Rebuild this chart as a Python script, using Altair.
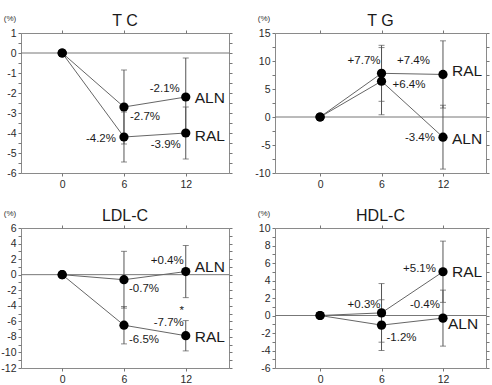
import altair as alt
import numpy as np
import pandas as pd

FONT = "Liberation Sans"

# months of treatment
months = [0, 6, 12]

# mean % change and SD
tc_aln = [0, -2.7, -2.2]
tc_aln_sd = [0, 1.85, 1.95]
tc_ral = [0, -4.2, -4.0]
tc_ral_sd = [0, 1.25, 1.3]

tg_aln = [0, 6.4, -3.6]
tg_aln_sd = [0, 6.0, 5.7]
tg_ral = [0, 7.8, 7.6]
tg_ral_sd = [0, 5.0, 6.0]

ldl_aln = [0, -0.65, 0.4]
ldl_aln_sd = [0, 3.65, 3.35]
ldl_ral = [0, -6.5, -7.85]
ldl_ral_sd = [0, 2.4, 1.95]

hdl_aln = [0, -1.1, -0.3]
hdl_aln_sd = [0, 2.9, 3.2]
hdl_ral = [0, 0.3, 5.0]
hdl_ral_sd = [0, 3.35, 3.5]

# printed value labels
tc_aln_txt = ["", "-2.7%", "-2.1%"]
tc_ral_txt = ["", "-4.2%", "-3.9%"]
tg_aln_txt = ["", "+6.4%", "-3.4%"]
tg_ral_txt = ["", "+7.7%", "+7.4%"]
ldl_aln_txt = ["", "-0.7%", "+0.4%"]
ldl_ral_txt = ["", "-6.5%", "-7.7%"]
hdl_aln_txt = ["", "-1.2%", "-0.4%"]
hdl_ral_txt = ["", "+0.3%", "+5.1%"]

# y axis ticks
tc_ticks = [1, 0, -1, -2, -3, -4, -5, -6]
tg_ticks = [15, 10, 5, 0, -5, -10]
ldl_ticks = [6, 4, 2, 0, -2, -4, -6, -8, -10, -12]
hdl_ticks = [10, 8, 6, 4, 2, 0, -2, -4, -6]

# label placement (pixel offsets from the point): (dx, dy, align)
LAYOUT = {
    "TC": {
        "ALN": [None, (6, 10, "left"), (-6, -8, "right")],
        "RAL": [None, (-8, 2, "right"), (-5, 12, "right")],
        "names": {"ALN": (9, 1), "RAL": (9, 3)},
    },
    "TG": {
        "ALN": [None, (11, 4, "left"), (-8, 1, "right")],
        "RAL": [None, (-1, -12, "right"), (-13, -13, "right")],
        "names": {"ALN": (9, 2), "RAL": (9, -3)},
    },
    "LDL": {
        "ALN": [None, (5, 9, "left"), (-2, -11, "right")],
        "RAL": [None, (5, 15, "left"), (-2, -13, "right")],
        "names": {"ALN": (9, -5), "RAL": (9, 1)},
    },
    "HDL": {
        "ALN": [None, (5, 13, "left"), (-3, -13, "right")],
        "RAL": [None, (-1, -8, "right"), (-7, -3, "right")],
        "names": {"ALN": (5, 6), "RAL": (9, 0)},
    },
}

PANELS = {
    "TC": dict(title="T C", aln=tc_aln, aln_sd=tc_aln_sd, ral=tc_ral, ral_sd=tc_ral_sd,
               aln_txt=tc_aln_txt, ral_txt=tc_ral_txt, ticks=tc_ticks, major=1, minor=0.5,
               w=208, xdom=[-4.0, 16.2]),
    "TG": dict(title="T G", aln=tg_aln, aln_sd=tg_aln_sd, ral=tg_ral, ral_sd=tg_ral_sd,
               aln_txt=tg_aln_txt, ral_txt=tg_ral_txt, ticks=tg_ticks, major=5, minor=2.5,
               w=211, xdom=[-4.4, 16.2]),
    "LDL": dict(title="LDL-C", aln=ldl_aln, aln_sd=ldl_aln_sd, ral=ldl_ral, ral_sd=ldl_ral_sd,
                aln_txt=ldl_aln_txt, ral_txt=ldl_ral_txt, ticks=ldl_ticks, major=2, minor=1,
                w=208, xdom=[-4.0, 16.2]),
    "HDL": dict(title="HDL-C", aln=hdl_aln, aln_sd=hdl_aln_sd, ral=hdl_ral, ral_sd=hdl_ral_sd,
                aln_txt=hdl_aln_txt, ral_txt=hdl_ral_txt, ticks=hdl_ticks, major=2, minor=1,
                w=211, xdom=[-4.4, 16.2]),
}

H = 140
GRAY_FRAME = "#8a8a8a"
TXT = "#1a1a1a"


def panel(key):
    p = PANELS[key]
    W = p["w"]
    lay = LAYOUT[key]
    rows, labs, names = [], [], []
    for g in ["ALN", "RAL"]:
        vals = p[g.lower()]
        sds = p[g.lower() + "_sd"]
        txts = p[g.lower() + "_txt"]
        for i, (m, v, s) in enumerate(zip(months, vals, sds)):
            rows.append({"x": m, "y": v, "lo": v - s, "hi": v + s, "g": g})
            if lay[g][i] is not None:
                dx, dy, al = lay[g][i]
                labs.append({"x": m, "y": v, "t": txts[i], "dx": dx, "dy": dy, "al": al})
        ndx, ndy = lay["names"][g]
        names.append({"x": months[-1], "y": vals[-1], "t": g, "dx": ndx, "dy": ndy})
    if key == "LDL":
        labs.append({"x": months[-1], "y": ldl_ral[-1], "t": "*", "dx": -4, "dy": -25, "al": "center"})
    df = pd.DataFrame(rows)
    lab = pd.DataFrame(labs)
    nm = pd.DataFrame(names)
    eb = df[df.x > 0]
    caps = pd.concat([
        eb[["x", "lo"]].rename(columns={"lo": "c"}),
        eb[["x", "hi"]].rename(columns={"hi": "c"}),
    ])

    lo, hi = min(p["ticks"]), max(p["ticks"])
    minor = [float(v) for v in np.arange(lo, hi + 1e-9, p["minor"])]
    xs = alt.Scale(domain=p["xdom"], nice=False, zero=False)
    ys = alt.Scale(domain=[lo, hi], nice=False, zero=False)

    common_axis = dict(title=None, grid=False, domain=False, tickColor="#777", tickSize=3,
                       labelFont=FONT, labelColor="#2a2a2a", labelFontSize=10.5)
    main_y = alt.Axis(orient="left", values=minor,
                      labelExpr=f"datum.value % {p['major']} === 0 ? '' + datum.value : ''",
                      labelPadding=2, **common_axis)
    main_x = alt.Axis(orient="bottom", values=months, labelExpr="'' + datum.value",
                      labelPadding=3, **common_axis)
    right_y = alt.Axis(orient="right", values=minor, labels=False, **common_axis)
    top_x = alt.Axis(orient="top", values=months, labels=False, **common_axis)

    X = lambda f, ax=None: alt.X(f, scale=xs, axis=ax)
    Y = lambda f, ax=None: alt.Y(f, scale=ys, axis=ax)

    zero = alt.Chart(alt.Data(values=[{"v": 0}])).mark_rule(color="#777", strokeWidth=1).encode(
        y=Y("v:Q"))
    lines = alt.Chart(df).mark_line(color="#666", strokeWidth=1).encode(
        x=X("x:Q"), y=Y("y:Q"), detail="g:N")
    bars = alt.Chart(eb).mark_rule(color="#555", strokeWidth=1).encode(
        x=X("x:Q"), y=Y("lo:Q"), y2="hi:Q")
    capm = alt.Chart(caps).mark_tick(orient="horizontal", size=6, thickness=1, color="#555").encode(
        x=X("x:Q"), y=Y("c:Q"))
    pts = alt.Chart(df).mark_circle(size=85, color="black", opacity=1).encode(
        x=X("x:Q", main_x), y=Y("y:Q", main_y))
    opp = alt.Chart(df).mark_point(opacity=0).encode(
        x=X("x:Q", top_x), y=Y("y:Q", right_y))
    vlab = alt.Chart(lab).mark_text(
        font=FONT, fontSize=11.5, color=TXT, baseline="middle",
        dx=alt.ExprRef(expr="datum.dx"), dy=alt.ExprRef(expr="datum.dy"),
        align=alt.ExprRef(expr="datum.al"),
    ).encode(x=X("x:Q"), y=Y("y:Q"), text="t:N")
    nlab = alt.Chart(nm).mark_text(
        font=FONT, fontSize=15.5, color=TXT, baseline="middle", align="left",
        dx=alt.ExprRef(expr="datum.dx"), dy=alt.ExprRef(expr="datum.dy"),
    ).encode(x=X("x:Q"), y=Y("y:Q"), text="t:N")
    ttl = alt.Chart(alt.Data(values=[{"t": p["title"]}])).mark_text(
        font=FONT, fontSize=16, color=TXT, baseline="middle", align="center").encode(
        x=alt.value(W / 2), y=alt.value(-12), text="t:N")
    pct = alt.Chart(alt.Data(values=[{"t": "(%)"}])).mark_text(
        font=FONT, fontSize=8, color="#333", baseline="middle", align="center").encode(
        x=alt.value(-11), y=alt.value(-14), text="t:N")

    return alt.layer(zero, lines, bars, capm, pts, opp, vlab, nlab, ttl, pct).resolve_axis(
        x="independent", y="independent").properties(width=W, height=H)


chart = alt.concat(
    panel("TC"), panel("TG"), panel("LDL"), panel("HDL"),
    columns=2, spacing={"row": 55, "column": 46}, bounds="flush",
).configure_view(
    stroke=GRAY_FRAME, strokeWidth=1
).properties(
    background="white",
    padding={"left": 0, "top": 12, "right": 0, "bottom": 0},
)

chart.save("out.html", embed_options={"renderer": "svg", "actions": False})
